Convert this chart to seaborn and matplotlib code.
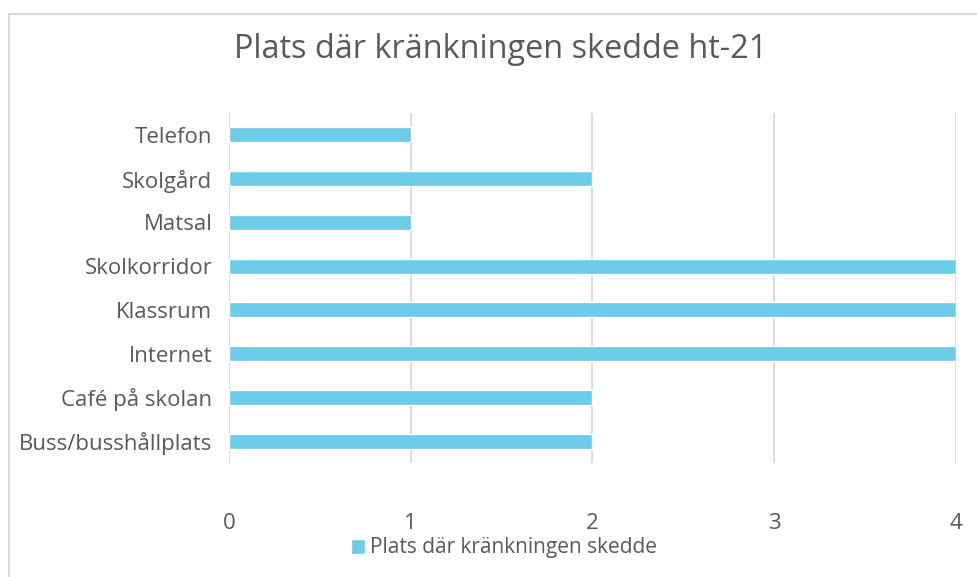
import matplotlib
matplotlib.use("Agg")
import matplotlib.pyplot as plt
import seaborn as sns
import pandas as pd
from matplotlib.patches import Rectangle

categories = ["Telefon", "Skolgård", "Matsal", "Skolkorridor", "Klassrum",
              "Internet", "Café på skolan", "Buss/busshållplats"]
values = [1, 2, 1, 4, 4, 4, 2, 2]
series_name = "Plats där kränkningen skedde"
title = "Plats där kränkningen skedde ht-21"
xticks = [0, 1, 2, 3, 4]

sns.set_theme(style="white")
plt.rcParams['font.family'] = ['Open Sans', 'DejaVu Sans']

text_color = "#595959"
bar_color = "#6DCDE8"

df = pd.DataFrame({"Plats": categories, "Antal": values, "Serie": series_name})

fig = plt.figure(figsize=(9.78, 5.77), dpi=100)
ax = fig.add_axes([229/978, 1-463/577, (956-229)/978, (463-113)/577])

sns.barplot(data=df, x="Antal", y="Plats", hue="Serie", palette=[bar_color],
            width=0.34, ax=ax, orient="h", saturation=1, legend=True)

ax.set_xlim(0, 4)
ax.set_ylim(7.5, -0.5)
ax.set_xticks(xticks)
ax.set_xticklabels([str(t) for t in xticks])
ax.xaxis.grid(True, color="#D9D9D9", linewidth=1.3)
ax.yaxis.grid(False)
ax.set_axisbelow(True)
for s in ax.spines.values():
    s.set_visible(False)
ax.set_xlabel("")
ax.set_ylabel("")
ax.tick_params(axis="x", colors=text_color, labelsize=16, length=0, pad=36)
ax.tick_params(axis="y", colors=text_color, labelsize=16, length=0, pad=12)
for lab in ax.get_xticklabels() + ax.get_yticklabels():
    lab.set_color(text_color)

fig.text(501/978, 1-50/577, title, ha="center", va="center", fontsize=23.4,
         color=text_color)

handles, labels = ax.get_legend_handles_labels()
ax.legend(handles, labels, loc="center", bbox_to_anchor=(504/978, 1-548/577),
          bbox_transform=fig.transFigure,
          frameon=False, fontsize=15, labelcolor=text_color,
          handlelength=0.7, handleheight=0.7, handletextpad=0.25,
          borderpad=0, borderaxespad=0)

fig.patches.append(Rectangle((8.5/978, -0.05), 1.1, 1 - 13.5/577 + 0.05,
                             transform=fig.transFigure, fill=False,
                             edgecolor="#D9D9D9", linewidth=1.5))

fig.savefig("out.png", dpi=100, facecolor="white")
